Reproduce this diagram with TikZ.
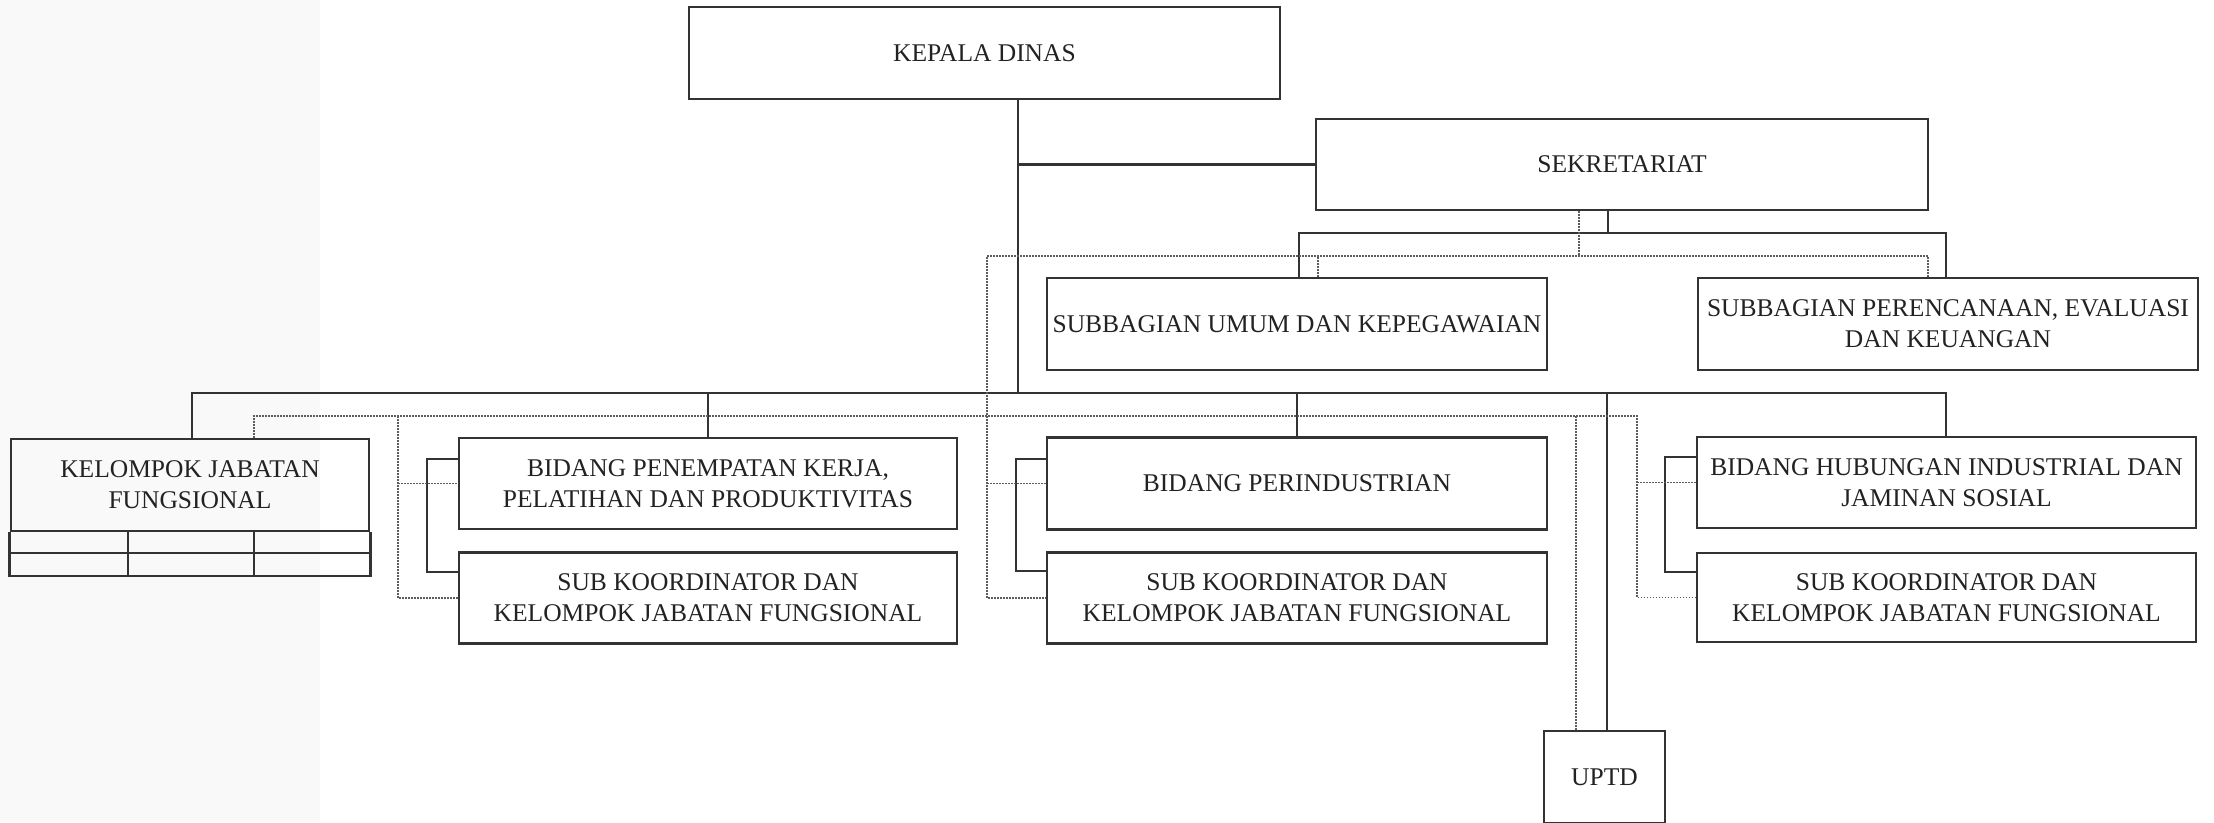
\documentclass[tikz,border=0pt]{standalone}
\usepackage{fontspec}
\setmainfont{Liberation Serif}
\usetikzlibrary{calc}
\definecolor{lineC}{HTML}{333333}
\definecolor{textC}{HTML}{222222}
\tikzset{
  box/.style={draw=lineC, line width=2.6pt, inner sep=0pt, align=center, text=textC,
    font=\fontsize{25.5}{31}\selectfont},
  conn/.style={draw=lineC, line width=2.2pt},
  dconn/.style={draw=lineC!80, line width=1.6pt, dash pattern=on 1.6pt off 1.4pt},
}
\begin{document}
\begin{tikzpicture}[x=1pt,y=-1pt]
\useasboundingbox (0,0) rectangle (2214,822);
\fill[white] (0,0) rectangle (2214,822);
\fill[black!2.5] (0,0) rectangle (320,822);
% boxes
\node[box, minimum width=591, minimum height=92] (kep) at (984.5,53) {KEPALA DINAS};
\node[box, minimum width=612, minimum height=91] (sek) at (1622,164.5) {SEKRETARIAT};
\node[box, minimum width=500, minimum height=92] (sub1) at (1297,324) {SUBBAGIAN UMUM DAN KEPEGAWAIAN};
\node[box, minimum width=500, minimum height=92] (sub2) at (1948,324) {SUBBAGIAN PERENCANAAN, EVALUASI\\DAN KEUANGAN};
\node[box, minimum width=358, minimum height=92] (kel) at (190,485) {KELOMPOK JABATAN\\FUNGSIONAL};
\node[box, minimum width=498, minimum height=91] (pen) at (708,483.5) {BIDANG PENEMPATAN KERJA,\\PELATIHAN DAN PRODUKTIVITAS};
\node[box, minimum width=498, minimum height=91] (sk1) at (708,598) {SUB KOORDINATOR DAN\\KELOMPOK JABATAN FUNGSIONAL};
\node[box, minimum width=500, minimum height=92] (per) at (1297,483.5) {BIDANG PERINDUSTRIAN};
\node[box, minimum width=500, minimum height=91] (sk2) at (1297,598) {SUB KOORDINATOR DAN\\KELOMPOK JABATAN FUNGSIONAL};
\node[box, minimum width=499, minimum height=91] (hub) at (1946.5,482.5) {BIDANG HUBUNGAN INDUSTRIAL DAN\\JAMINAN SOSIAL};
\node[box, minimum width=499, minimum height=89] (sk3) at (1946.5,597.5) {SUB KOORDINATOR DAN\\KELOMPOK JABATAN FUNGSIONAL};
\node[box, minimum width=121, minimum height=92] (uptd) at (1604.5,777) {UPTD};
% table below kelompok
\coordinate (t1) at (128,531);
\coordinate (t2) at (254,531);
\coordinate (tb) at (0,576);
\coordinate (tm) at (0,553);
\draw[conn, line width=2.6pt] (kel.south west) -- (kel.south west |- tb) -- (kel.south east |- tb) -- (kel.south east);
\draw[conn] (kel.south west |- tm) -- (kel.south east |- tm);
\draw[conn] (t1) -- (t1 |- tb) (t2) -- (t2 |- tb);
% junction coordinates
\coordinate (kv) at (1018,393);
\coordinate (sj) at (1608,233);
\coordinate (sl) at (1299,233);
\coordinate (sr) at (1946,233);
\coordinate (bl) at (192,393);
\coordinate (br) at (1946,393);
\coordinate (bp) at (708,393);
\coordinate (bu) at (1607,393);
% solid connectors
\draw[conn] (kep.south -| kv) -- (kv);
\draw[conn] (kv |- sek.west) -- (sek.west);
\draw[conn] (sek.south -| sj) -- (sj);
\draw[conn] (sub1.north -| sl) -- (sl) -- (sr) -- (sub2.north -| sr);
\draw[conn] (kel.north -| bl) -- (bl) -- (br) -- (hub.north -| br);
\draw[conn] (bp) -- (pen.north -| bp);
\draw[conn] (per.north |- bl) -- (per.north);
\draw[conn] (bu) -- (uptd.north -| bu);
\draw[conn] ($(pen.north west)+(0,22)$) -- ++(-31,0) |- ($(sk1.north west)+(0,21)$);
\draw[conn] ($(per.north west)+(0,23)$) -- ++(-30,0) |- ($(sk2.north west)+(0,20)$);
\draw[conn] ($(hub.north west)+(0,21)$) -- ++(-31,0) |- ($(sk3.north west)+(0,20)$);
% dotted connectors
\coordinate (dt) at (1579,256);
\coordinate (dl) at (987,256);
\coordinate (dr) at (1928,256);
\coordinate (du) at (1318,256);
\draw[dconn] (sek.south -| dt) -- (dt);
\draw[dconn] (sub1.north -| du) -- (du);
\draw[dconn] (sub2.north -| dr) -- (dr) -- (dl) |- (sk2.west);
\draw[dconn] (dl |- per.west) -- (per.west);
\coordinate (ll) at (254,416);
\coordinate (lr) at (1637,416);
\coordinate (lp) at (398,416);
\coordinate (lu) at (1576,416);
\draw[dconn] (kel.north -| ll) -- (ll) -- (lr) |- (sk3.west);
\draw[dconn] (lr |- hub.west) -- (hub.west);
\draw[dconn] (lp) |- (sk1.west);
\draw[dconn] (lp |- pen.west) -- (pen.west);
\draw[dconn] (lu) -- (uptd.north -| lu);
\end{tikzpicture}
\end{document}
